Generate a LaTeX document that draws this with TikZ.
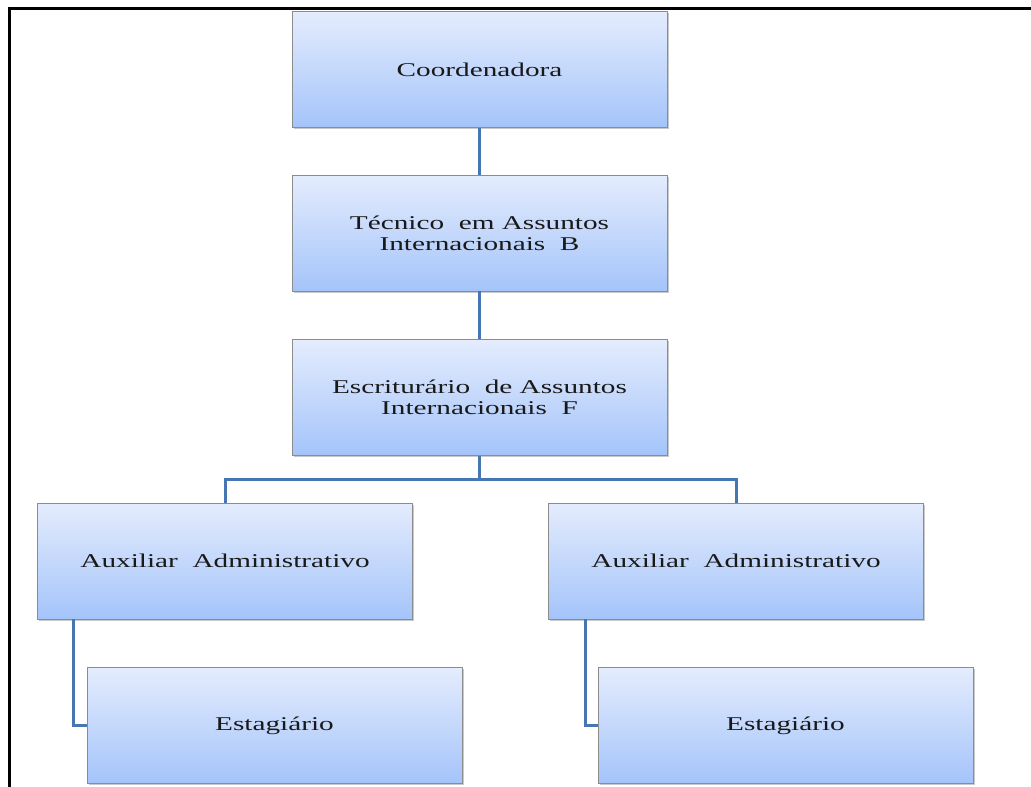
\documentclass[tikz,border=0pt]{standalone}
\usepackage{fontspec}
\setmainfont{Liberation Serif}[FakeStretch=1.5]
\usetikzlibrary{shadows}
\definecolor{boxtop}{RGB}{228,236,253}
\definecolor{boxbot}{RGB}{164,196,250}
\definecolor{boxedge}{RGB}{140,140,140}
\definecolor{linkblue}{RGB}{72,118,178}
\definecolor{txt}{RGB}{25,25,25}
\tikzset{
  orgbox/.style={draw=boxedge, line width=0.8pt, top color=boxtop, bottom color=boxbot,
    minimum width=375pt, minimum height=116pt, inner sep=0pt, align=center,
    text=txt, font=\fontsize{19.5}{21}\selectfont,
    drop shadow={shadow xshift=1.5pt, shadow yshift=-1.5pt, opacity=0.35, fill=black!60}},
  link/.style={draw=linkblue, line width=3pt}
}
\begin{document}
\begin{tikzpicture}[x=1pt,y=-1pt]
\useasboundingbox (0,0) rectangle (1031,787);
\fill[white] (0,0) rectangle (1031,787);
\draw[line width=3pt, black] (9,787) -- (9,8.5) -- (1031,8.5);
\node[orgbox] (coord) at (479.5,69.5) {Coordenadora};
\node[orgbox] (tec) at (479.5,233) {Técnico\ \ em Assuntos\\Internacionais\ \ B};
\node[orgbox] (esc) at (479.5,397.5) {Escriturário\ \ de Assuntos\\Internacionais\ \ F};
\node[orgbox] (aux1) at (225,561) {Auxiliar\ \ Administrativo};
\node[orgbox] (aux2) at (736,561) {Auxiliar\ \ Administrativo};
\node[orgbox] (est1) at (274.5,725.5) {Estagiário};
\node[orgbox] (est2) at (785.5,725.5) {Estagiário};
\coordinate (mid) at (479.5,479);
\draw[link] (coord.south) -- (tec.north);
\draw[link] (tec.south) -- (esc.north);
\draw[link] (esc.south) -- (mid) -| (aux1.north);
\draw[link] (mid) -| (aux2.north);
\draw[link] ([xshift=36pt]aux1.south west) |- (est1.west);
\draw[link] ([xshift=37pt]aux2.south west) |- (est2.west);
\end{tikzpicture}
\end{document}
